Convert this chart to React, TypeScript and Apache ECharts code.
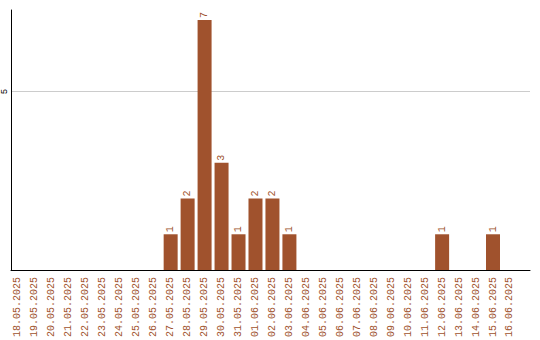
import React, { useEffect, useRef } from "react";
import * as echarts from "echarts";

const categories = [
  "18.05.2025", "19.05.2025", "20.05.2025", "21.05.2025", "22.05.2025",
  "23.05.2025", "24.05.2025", "25.05.2025", "26.05.2025", "27.05.2025",
  "28.05.2025", "29.05.2025", "30.05.2025", "31.05.2025", "01.06.2025",
  "02.06.2025", "03.06.2025", "04.06.2025", "05.06.2025", "06.06.2025",
  "07.06.2025", "08.06.2025", "09.06.2025", "10.06.2025", "11.06.2025",
  "12.06.2025", "13.06.2025", "14.06.2025", "15.06.2025", "16.06.2025",
];

const values = [
  0, 0, 0, 0, 0, 0, 0, 0, 0, 1,
  2, 7, 3, 1, 2, 2, 1, 0, 0, 0,
  0, 0, 0, 0, 0, 1, 0, 0, 1, 0,
];

const yTicks = [5];

const COLOR = "#a0522d";

export default function App() {
  const ref = useRef<HTMLDivElement>(null);
  useEffect(() => {
    if (!ref.current) return;
    const chart = echarts.init(ref.current, null, { renderer: "svg" });
    chart.setOption({
      animation: false,
      grid: { left: 10, right: 10, top: 10, bottom: 70, containLabel: false },
      xAxis: {
        type: "value",
        min: -0.41,
        max: 30.18,
        axisLine: { show: true, onZero: false, lineStyle: { color: "#000", width: 1 } },
        axisTick: { show: false },
        splitLine: { show: false },
        axisLabel: {
          customValues: categories.map((_, i) => i),
          formatter: (v: number) => categories[Math.round(v)] ?? "",
          rotate: 90,
          color: COLOR,
          fontFamily: "Liberation Mono",
          fontSize: 10,
          margin: 7,
        },
      },
      yAxis: {
        type: "value",
        min: 0,
        max: 7.28,
        interval: 5,
        axisLine: { show: true, onZero: false, lineStyle: { color: "#000", width: 1 } },
        axisTick: { show: false },
        splitLine: {
          show: true,
          showMaxLine: false,
          showMinLine: false,
          lineStyle: { color: "#cccccc", width: 1 },
        },
        axisLabel: {
          customValues: yTicks,
          rotate: 90,
          color: "#000",
          fontFamily: "Liberation Mono",
          fontSize: 9,
          margin: 2,
        },
      },
      series: [
        {
          type: "bar",
          barWidth: 14,
          itemStyle: { color: COLOR },
          data: values.map((v, i) => [i, v]),
          label: {
            show: true,
            position: "top",
            rotate: 90,
            align: "left",
            verticalAlign: "middle",
            distance: 2,
            color: COLOR,
            fontFamily: "Liberation Mono",
            fontSize: 10,
            formatter: (p: any) => (p.value[1] ? String(p.value[1]) : ""),
          },
        },
      ],
    });
    return () => chart.dispose();
  }, []);
  return (
    <div
      ref={ref}
      style={{ position: "absolute", left: 0, top: 0, width: 540, height: 340 }}
    />
  );
}
